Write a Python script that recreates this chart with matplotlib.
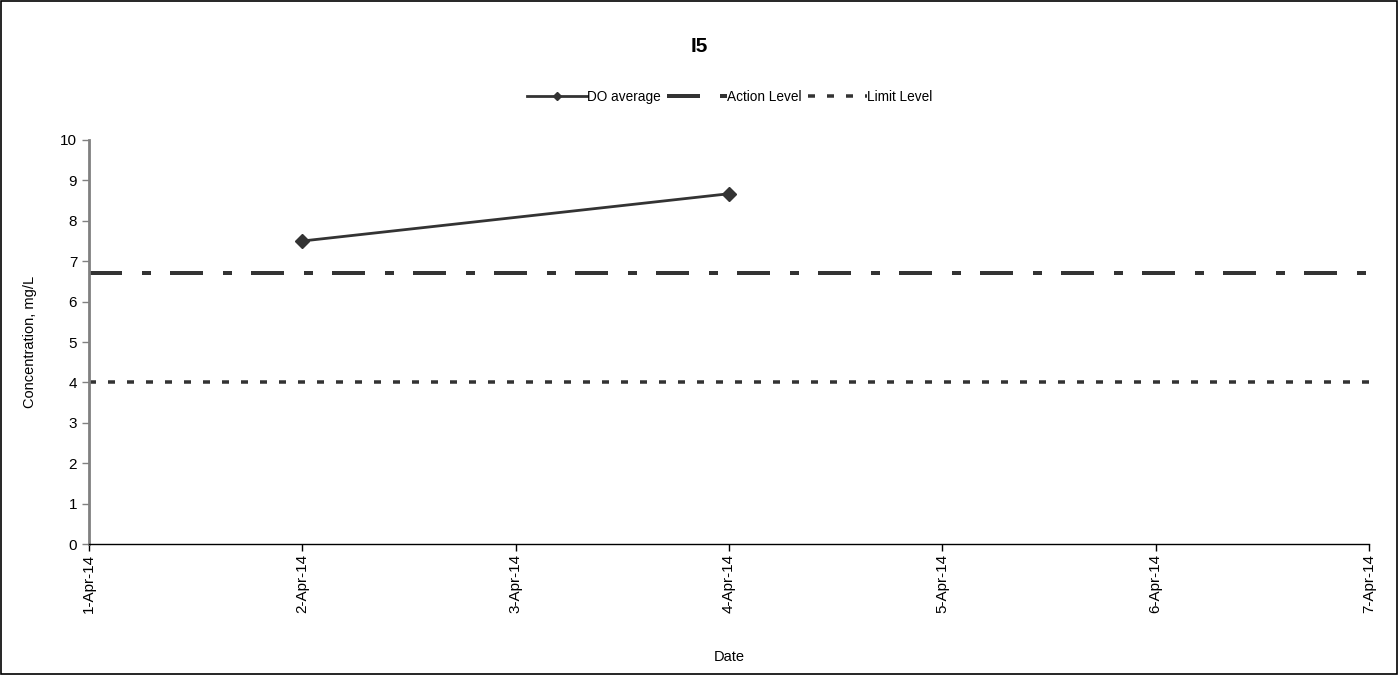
import matplotlib
matplotlib.use("Agg")
import matplotlib.pyplot as plt
import matplotlib.dates as mdates
from matplotlib.patches import Rectangle
import datetime as dt

plt.rcParams['font.family'] = ['Liberation Sans', 'DejaVu Sans']
plt.rcParams['lines.scale_dashes'] = False

title = "I5"
do_dates = [dt.date(2014, 4, 2), dt.date(2014, 4, 4)]
do_values = [7.5, 8.67]
action_level = 6.7
limit_level = 4.0
x_start = dt.date(2014, 4, 1)
x_end = dt.date(2014, 4, 7)
y_ticks = list(range(0, 11))

fig = plt.figure(figsize=(13.99, 6.75), dpi=100)
ax = fig.add_axes([0.0636, 0.194, 0.9786 - 0.0636, 0.7926 - 0.194])

col = '#333333'
px = 0.72
ax.plot(do_dates, do_values, color=col, lw=2.0, marker='D', ms=7,
        label='DO average', zorder=5)
ax.plot([x_start, x_end], [action_level, action_level], color=col, lw=4 * px,
        dashes=(33 * px, 20 * px, 9 * px, 19 * px), solid_capstyle='butt',
        dash_capstyle='butt', label='Action Level')
ax.plot([x_start, x_end], [limit_level, limit_level], color=col, lw=3.5 * px,
        dashes=(7 * px, 12 * px), dash_capstyle='butt', label='Limit Level')

ax.set_xlim(x_start, x_end)
ax.set_ylim(0, 10)
ax.set_yticks(y_ticks)
ax.xaxis.set_major_locator(mdates.DayLocator())
ax.xaxis.set_major_formatter(mdates.DateFormatter('%-d-%b-%y'))
for lab in ax.get_xticklabels():
    lab.set_rotation(90)
ax.tick_params(axis='both', labelsize=11, length=5, width=1, direction='out')
ax.tick_params(axis='x', pad=2)
ax.tick_params(axis='y', color='#808080')

for s in ['top', 'right']:
    ax.spines[s].set_visible(False)
ax.spines['left'].set_color('#808080')
ax.spines['left'].set_linewidth(2)
ax.spines['bottom'].set_color('black')
ax.spines['bottom'].set_linewidth(1)

ax.set_ylabel('Concentration, mg/L', fontsize=10.5, labelpad=17)
ax.set_xlabel('Date', fontsize=10.5, labelpad=27)
fig.text(0.5, 1 - 47 / 675, title, ha='center', va='center', fontsize=15,
         fontweight='bold')

fig.legend(loc='center', bbox_to_anchor=(730 / 1399, 1 - 97 / 675), ncol=3,
           frameon=False, fontsize=9.8, handlelength=4.4, columnspacing=0.45,
           handletextpad=0.0, markerscale=0.65)

fig.patches.append(Rectangle((0.0007, 0.0015), 0.9979, 0.997,
                             transform=fig.transFigure, fill=False,
                             edgecolor='black', lw=1.2))

fig.savefig('out.png', dpi=100)
